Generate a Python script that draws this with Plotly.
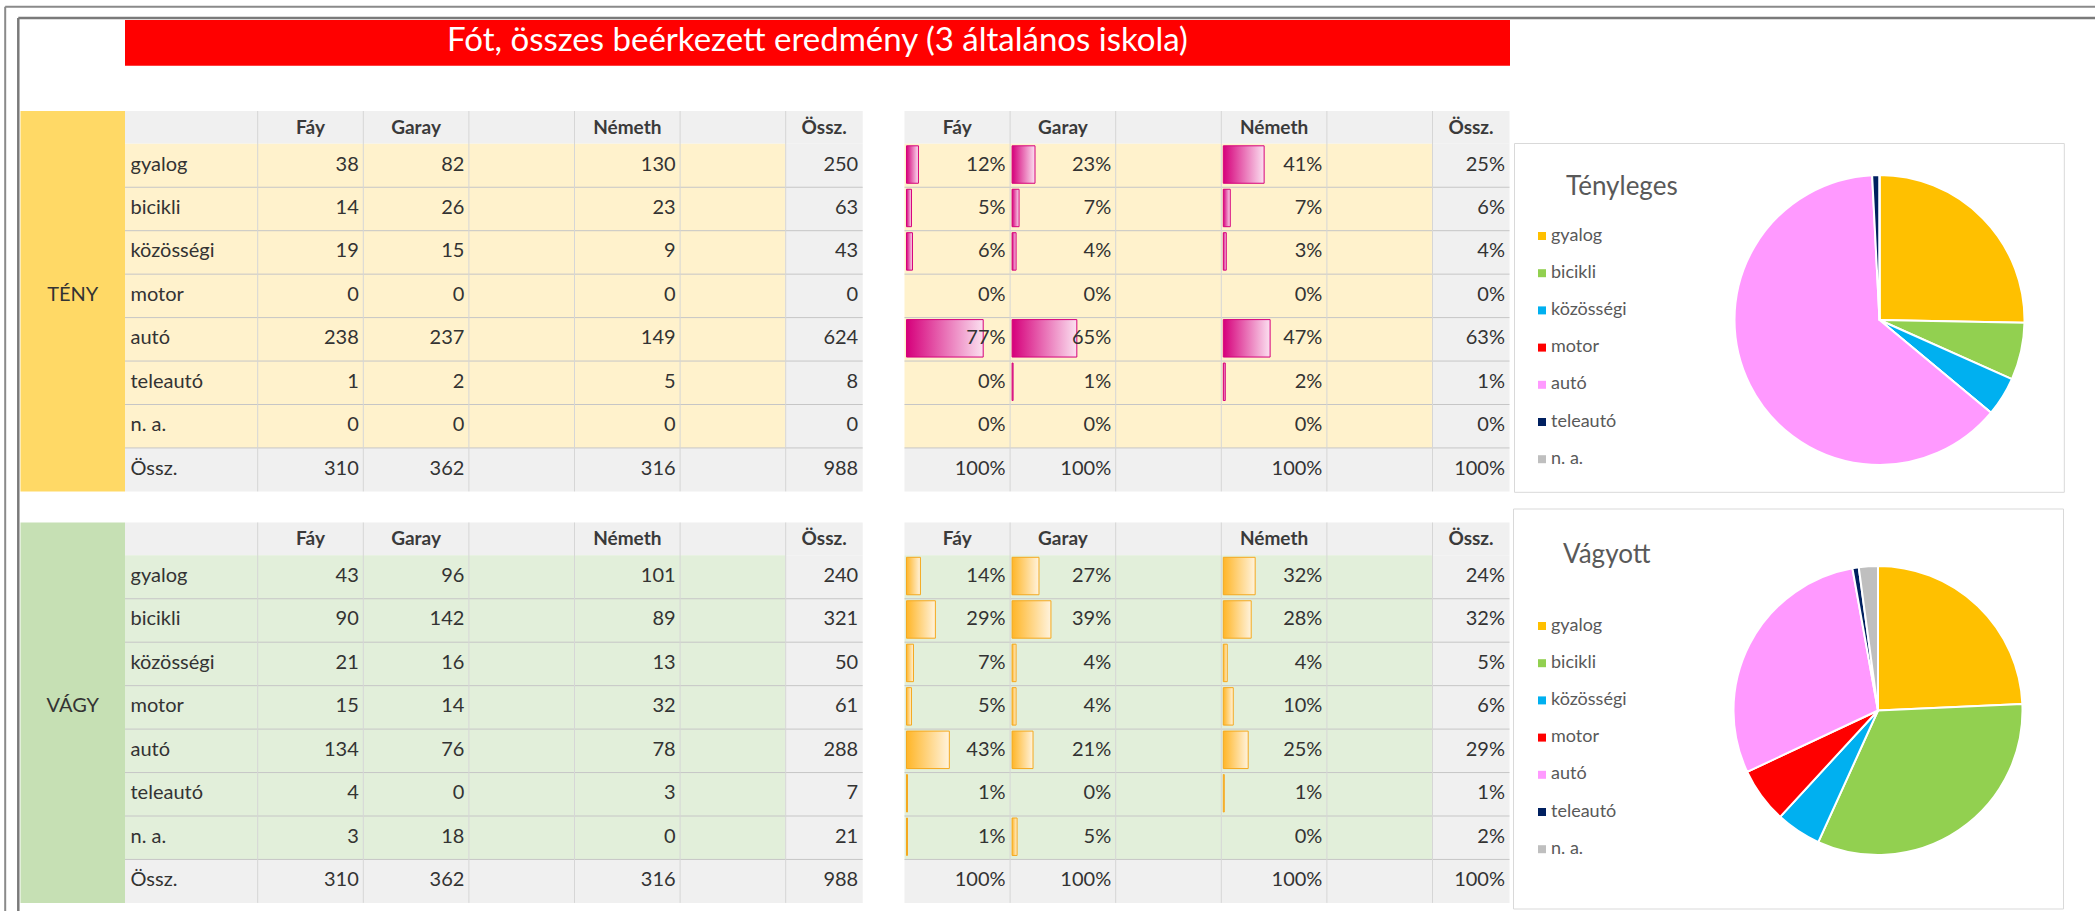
import plotly.graph_objects as go

# ---------------- data ----------------
title_text = "Fót, összes beérkezett eredmény (3 általános iskola)"
col_headers = ["Fáy", "Garay", "Németh", "Össz."]
modes = ["gyalog", "bicikli", "közösségi", "motor", "autó", "teleautó", "n. a."]
total_row_label = "Össz."
block_labels = ["TÉNY", "VÁGY"]
pie_titles = ["Tényleges", "Vágyott"]

teny_fay = [38, 14, 19, 0, 238, 1, 0]
teny_garay = [82, 26, 15, 0, 237, 2, 0]
teny_nemeth = [130, 23, 9, 0, 149, 5, 0]
teny_ossz = [250, 63, 43, 0, 624, 8, 0]
teny_totals = [310, 362, 316, 988]

vagy_fay = [43, 90, 21, 15, 134, 4, 3]
vagy_garay = [96, 142, 16, 14, 76, 0, 18]
vagy_nemeth = [101, 89, 13, 32, 78, 3, 0]
vagy_ossz = [240, 321, 50, 61, 288, 7, 21]
vagy_totals = [310, 362, 316, 988]

teny_pct_fay = [12, 5, 6, 0, 77, 0, 0]
teny_pct_garay = [23, 7, 4, 0, 65, 1, 0]
teny_pct_nemeth = [41, 7, 3, 0, 47, 2, 0]
teny_pct_ossz = [25, 6, 4, 0, 63, 1, 0]
teny_pct_totals = [100, 100, 100, 100]

vagy_pct_fay = [14, 29, 7, 5, 43, 1, 1]
vagy_pct_garay = [27, 39, 4, 4, 21, 0, 5]
vagy_pct_nemeth = [32, 28, 4, 10, 25, 1, 0]
vagy_pct_ossz = [24, 32, 5, 6, 29, 1, 2]
vagy_pct_totals = [100, 100, 100, 100]

mode_colors = ["#FFC000", "#92D050", "#00B0F0", "#FF0000", "#FF99FF", "#002060", "#BFBFBF"]

# ---------------- layout constants (pixels) ----------------
W, H = 2095, 911
FONT = "Lato, 'Open Sans', sans-serif"
TXT = "#333333"
GREY = "#F0F0F0"
HLINE = "#C6C6C6"
VLINE = "#D6D6D6"

LBL_X0, LBL_X1 = 20.5, 125.0
COL_W = 105.6
OSSZ_W = 77.0
L_X0 = 257.7
R_X0 = 904.5
DATA_COLS = [0, 1, 3, 5]          # Fáy, Garay, (blank), Németh, (blank), Össz.
BLOCK_Y0 = [111.0, 522.5]
HDR_H = 32.8
ROW_H = 43.45
BAR_MAX = COL_W - 6

blocks = [
    dict(label=block_labels[0],
         counts=[teny_fay, teny_garay, teny_nemeth, teny_ossz], totals=teny_totals,
         pcts=[teny_pct_fay, teny_pct_garay, teny_pct_nemeth, teny_pct_ossz], pct_totals=teny_pct_totals,
         data_bg="#FFF2CC", label_bg="#FFD966", bar0="#D6007B", bar1="#FBE0F0", barline="#D6007B"),
    dict(label=block_labels[1],
         counts=[vagy_fay, vagy_garay, vagy_nemeth, vagy_ossz], totals=vagy_totals,
         pcts=[vagy_pct_fay, vagy_pct_garay, vagy_pct_nemeth, vagy_pct_ossz], pct_totals=vagy_pct_totals,
         data_bg="#E2EFDA", label_bg="#C6E0B4", bar0="#FFB628", bar1="#FFF3DD", barline="#F5A81E"),
]


def edges(x0):
    e = [x0 + i * COL_W for i in range(6)]
    e.append(e[-1] + OSSZ_W)
    return e


L_E = edges(L_X0)
R_E = edges(R_X0)

fig = go.Figure()
shapes = []


def rect(x0, y0, x1, y1, fill, line=None, lw=0, layer="below"):
    shapes.append(dict(type="rect", xref="x", yref="y", x0=x0, y0=y0, x1=x1, y1=y1,
                       fillcolor=fill, line=dict(color=line or fill, width=lw), layer=layer))


def seg(x0, y0, x1, y1, color, lw=1, layer="below"):
    shapes.append(dict(type="line", xref="x", yref="y", x0=x0, y0=y0, x1=x1, y1=y1,
                       line=dict(color=color, width=lw), layer=layer))


# frame
seg(5.2, 6.8, 5.2, H + 5, "#8A8A8A", 2)
seg(5.2, 6.8, W + 5, 6.8, "#8A8A8A", 2)
seg(18.3, 18.0, 18.3, H + 5, "#7A7A7A", 2.5)
seg(18.3, 18.0, W + 5, 18.0, "#7A7A7A", 2.5)

# title bar
rect(125.0, 20.0, 1510.0, 65.7, "#FF0000")

# text collections
txt_right = dict(x=[], y=[], t=[])
txt_left = dict(x=[], y=[], t=[])
txt_center = dict(x=[], y=[], t=[])
txt_head = dict(x=[], y=[], t=[])
bars = []

for b, y0 in zip(blocks, BLOCK_Y0):
    hdr_bot = y0 + HDR_H
    row_tops = [hdr_bot + i * ROW_H for i in range(8)]
    y_end = row_tops[7] + ROW_H
    data_bot = row_tops[7]
    # label column
    rect(LBL_X0, y0, LBL_X1, y_end, b["label_bg"])
    txt_center["x"].append((LBL_X0 + LBL_X1) / 2)
    txt_center["y"].append(hdr_bot + 3.5 * ROW_H)
    txt_center["t"].append(b["label"])
    for E, x_start in ((L_E, LBL_X1), (R_E, R_X0)):
        # header, data, total backgrounds
        rect(x_start, y0, E[6], hdr_bot, GREY)
        rect(x_start, hdr_bot, E[5], data_bot, b["data_bg"])
        rect(E[5], hdr_bot, E[6], data_bot, GREY)
        rect(x_start, data_bot, E[6], y_end, GREY)
        for i in range(1, 8):
            seg(x_start, row_tops[i], E[6], row_tops[i], HLINE)
        vx = E[0:6] if E is L_E else E[1:6]
        for x in vx:
            seg(x, y0, x, y_end, VLINE)
        for k, ci in enumerate(DATA_COLS):
            txt_head["x"].append((E[ci] + E[ci + 1]) / 2)
            txt_head["y"].append(y0 + HDR_H / 2 + 1.5)
            txt_head["t"].append(col_headers[k])
    # row labels
    for i, m in enumerate(modes + [total_row_label]):
        txt_left["x"].append(LBL_X1 + 5.5)
        txt_left["y"].append(row_tops[i] + ROW_H / 2)
        txt_left["t"].append(m)
    # counts
    for k, ci in enumerate(DATA_COLS):
        vals = b["counts"][k] + [b["totals"][k]]
        for i, v in enumerate(vals):
            txt_right["x"].append(L_E[ci + 1] - 4.5)
            txt_right["y"].append(row_tops[i] + ROW_H / 2)
            txt_right["t"].append(str(v))
    # percentages and data bars
    for k, ci in enumerate(DATA_COLS):
        vals = b["pcts"][k] + [b["pct_totals"][k]]
        for i, v in enumerate(vals):
            txt_right["x"].append(R_E[ci + 1] - 4.5)
            txt_right["y"].append(row_tops[i] + ROW_H / 2)
            txt_right["t"].append(f"{v}%")
            if i < 7 and ci != 5 and v > 0:
                bx0 = R_E[ci] + 2
                bx1 = bx0 + max(v / 100 * BAR_MAX, 1.0)
                by0 = row_tops[i] + 2
                by1 = row_tops[i] + ROW_H - 4
                bars.append(go.Scatter(
                    x=[bx0, bx1, bx1, bx0, bx0], y=[by0, by0, by1, by1, by0],
                    mode="lines", fill="toself",
                    fillgradient=dict(type="horizontal",
                                      colorscale=[[0, b["bar0"]], [1, b["bar1"]]]),
                    line=dict(color=b["barline"], width=1),
                    hoverinfo="skip", showlegend=False))

for tr in bars:
    fig.add_trace(tr)

tf = dict(family=FONT, size=20, color=TXT)
fig.add_trace(go.Scatter(x=txt_right["x"], y=txt_right["y"], text=txt_right["t"], mode="text",
                         textposition="middle left", textfont=tf, hoverinfo="skip", showlegend=False))
fig.add_trace(go.Scatter(x=txt_left["x"], y=txt_left["y"], text=txt_left["t"], mode="text",
                         textposition="middle right", textfont=tf, hoverinfo="skip", showlegend=False))
fig.add_trace(go.Scatter(x=txt_center["x"], y=txt_center["y"], text=txt_center["t"], mode="text",
                         textposition="middle center", textfont=tf, hoverinfo="skip", showlegend=False))
fig.add_trace(go.Scatter(x=txt_head["x"], y=txt_head["y"], text=[f"<b>{t}</b>" for t in txt_head["t"]],
                         mode="text", textposition="middle center",
                         textfont=dict(family=FONT, size=19, color="#3A3A3A"),
                         hoverinfo="skip", showlegend=False))

# title text
fig.add_trace(go.Scatter(x=[(125.0 + 1510.0) / 2], y=[43.0], text=[title_text], mode="text",
                         textposition="middle center",
                         textfont=dict(family=FONT, size=33, color="white"),
                         hoverinfo="skip", showlegend=False))

# ---------------- pie charts ----------------
pie_boxes = [(1514.5, 143.5, 2064.3, 492.3), (1513.5, 509.0, 2063.5, 909.0)]
pie_geo = [(1879.5, 320.0, 145.0), (1878.0, 710.5, 144.5)]
pie_title_pos = [(1566.0, 188.0), (1563.0, 556.0)]
legend_y0 = [236.0, 626.0]
LEG_STEP = 37.2
pie_values = [teny_ossz, vagy_ossz]

for idx, (box, (cx, cy, r), (tx, ty), ly0, vals) in enumerate(
        zip(pie_boxes, pie_geo, pie_title_pos, legend_y0, pie_values)):
    rect(box[0], box[1], box[2], box[3], "white", "#D9D9D9", 1)
    fig.add_trace(go.Pie(
        labels=modes, values=vals, sort=False, direction="clockwise", rotation=0,
        marker=dict(colors=mode_colors, line=dict(color="white", width=2)),
        textinfo="none", hoverinfo="label+value+percent", showlegend=False,
        domain=dict(x=[(cx - r) / W, (cx + r) / W], y=[1 - (cy + r) / H, 1 - (cy - r) / H])))
    fig.add_trace(go.Scatter(x=[tx], y=[ty], text=[pie_titles[idx]], mode="text",
                             textposition="middle right",
                             textfont=dict(family=FONT, size=26, color="#595959"),
                             hoverinfo="skip", showlegend=False))
    ly = [ly0 + i * LEG_STEP for i in range(len(modes))]
    fig.add_trace(go.Scatter(x=[1542.0] * len(modes), y=ly, mode="markers",
                             marker=dict(symbol="square", size=8, color=mode_colors),
                             hoverinfo="skip", showlegend=False))
    fig.add_trace(go.Scatter(x=[1551.0] * len(modes), y=ly, text=modes, mode="text",
                             textposition="middle right",
                             textfont=dict(family=FONT, size=18, color="#595959"),
                             hoverinfo="skip", showlegend=False))

fig.update_layout(
    width=W, height=H, margin=dict(l=0, r=0, t=0, b=0),
    paper_bgcolor="white", plot_bgcolor="white",
    xaxis=dict(range=[0, W], visible=False, fixedrange=True, domain=[0, 1]),
    yaxis=dict(range=[H, 0], visible=False, fixedrange=True, domain=[0, 1]),
    shapes=shapes, showlegend=False, hovermode="closest",
)

fig.write_html("out.html", config={"displayModeBar": False},
               post_script="document.body.style.margin='0';document.body.style.overflow='hidden';")
